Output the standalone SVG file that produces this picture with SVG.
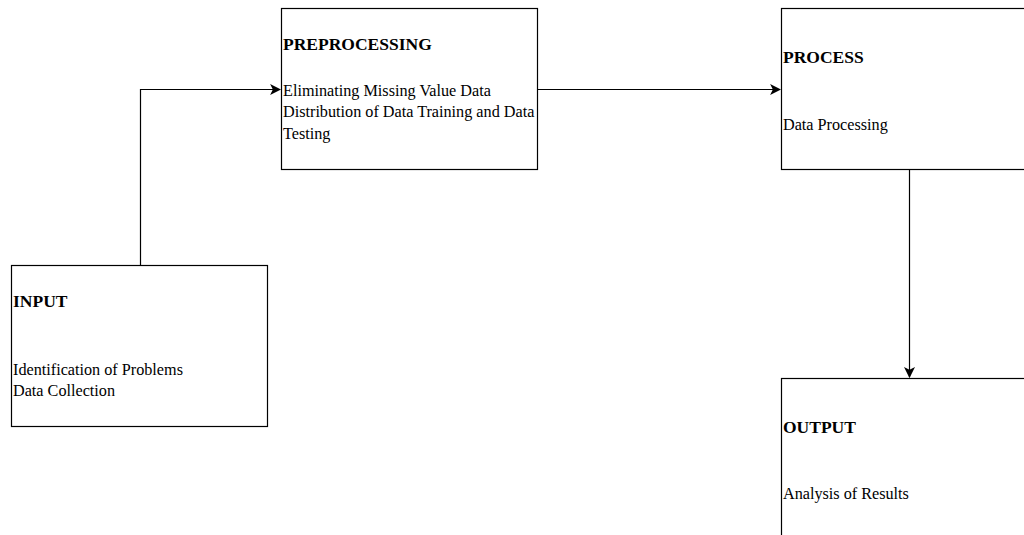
<svg xmlns="http://www.w3.org/2000/svg" width="1024" height="535" viewBox="0 0 1024 535">
<defs>
<style>
.box{fill:#fff;stroke:#000;stroke-width:1.2}
.t{font-family:"Liberation Serif","Times New Roman",serif;font-size:16.2px;fill:#000}
.h{font-family:"Liberation Serif","Times New Roman",serif;font-size:17.5px;font-weight:bold;fill:#000}
.c{fill:none;stroke:#000;stroke-width:1.2}
</style>
<marker id="arr" viewBox="0 0 10 10" refX="9" refY="5" markerWidth="11" markerHeight="11" markerUnits="userSpaceOnUse" orient="auto">
<path d="M0,0 L10,5 L0,10 L2.5,5 Z" fill="#000"/>
</marker>
</defs>
<rect width="1024" height="535" fill="#fff"/>
<g id="connectors">
<path class="c" d="M140.5,265.5 V89.5 H280" marker-end="url(#arr)"/>
<path class="c" d="M537.5,89.5 H780" marker-end="url(#arr)"/>
<path class="c" d="M909.5,169.5 V377" marker-end="url(#arr)"/>
</g>
<g id="input">
<rect class="box" x="11.5" y="265.5" width="256" height="161"/>
<text class="h" x="13" y="307">INPUT</text>
<text class="t" x="13" y="375">Identification of Problems</text>
<text class="t" x="13" y="396">Data Collection</text>
</g>
<g id="preprocessing">
<rect class="box" x="281.5" y="8.5" width="256" height="161"/>
<text class="h" x="283" y="50">PREPROCESSING</text>
<text class="t" x="283" y="96">Eliminating Missing Value Data</text>
<text class="t" x="283" y="117">Distribution of Data Training and Data</text>
<text class="t" x="283" y="139">Testing</text>
</g>
<g id="process">
<rect class="box" x="781.5" y="8.5" width="256" height="161"/>
<text class="h" x="783" y="63">PROCESS</text>
<text class="t" x="783" y="130">Data Processing</text>
</g>
<g id="output">
<rect class="box" x="781.5" y="378.5" width="256" height="161"/>
<text class="h" x="783" y="433">OUTPUT</text>
<text class="t" x="783" y="499">Analysis of Results</text>
</g>
</svg>
